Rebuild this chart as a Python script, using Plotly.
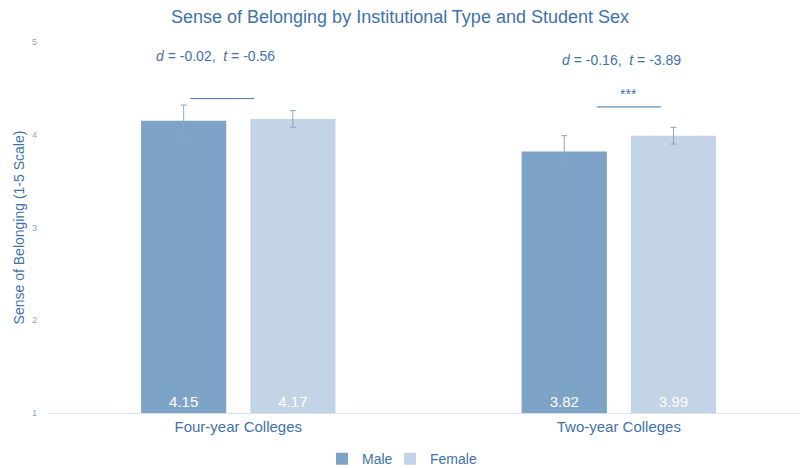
import plotly.graph_objects as go

# data
categories = ["Four-year Colleges", "Two-year Colleges"]
male_means = [4.15, 3.82]
female_means = [4.17, 3.99]
male_err = [0.17, 0.17]
female_err = [0.09, 0.09]
stat_labels = ["<i>d</i> = -0.02,  <i>t</i> = -0.56", "<i>d</i> = -0.16,  <i>t</i> = -3.89"]
sig_labels = ["", "***"]

AXIS_MIN = 1
MALE_COLOR = "#7DA3C7"
FEMALE_COLOR = "#C3D4E6"
TEXT_COLOR = "#3F72A8"
ERR_COLOR = "#87A6C6"


def add_group(name, means, errs, color, legend):
    # bars start at the axis floor so the value labels sit at the bar base
    fig.add_trace(go.Bar(
        name=name, x=categories, y=[v - AXIS_MIN for v in means], base=AXIS_MIN,
        marker=dict(color=color, line=dict(width=0)),
        error_y=dict(type="data", array=errs, color=ERR_COLOR, thickness=1, width=3),
        text=[f"{v:.2f}" for v in means], textposition="inside",
        insidetextanchor="start", textfont=dict(color="white", size=15),
        hovertemplate="%{x}: " + "%{text}<extra>" + name + "</extra>",
        legend=legend,
    ))


fig = go.Figure()
add_group("Male", male_means, male_err, MALE_COLOR, "legend")
add_group("Female", female_means, female_err, FEMALE_COLOR, "legend2")

# significance annotations
stat_pos = [(-0.061, 4.85), (1.008, 4.81)]
line_pos = [(-0.126, 0.042, 4.39), (0.942, 1.111, 4.3)]
for i in range(2):
    fig.add_annotation(x=stat_pos[i][0], y=stat_pos[i][1], xref="x", yref="y",
                       text=stat_labels[i], showarrow=False,
                       font=dict(size=14, color=TEXT_COLOR))
    x0, x1, yl = line_pos[i]
    fig.add_shape(type="line", x0=x0, x1=x1, y0=yl, y1=yl, xref="x", yref="y",
                  line=dict(color=TEXT_COLOR, width=1))
    if sig_labels[i]:
        fig.add_annotation(x=(x0 + x1) / 2, y=yl + 0.03, xref="x", yref="y",
                           text=sig_labels[i], showarrow=False, yanchor="bottom",
                           font=dict(size=14, color=TEXT_COLOR))

legend_style = dict(orientation="h", xanchor="left", xref="container",
                    y=0.019, yanchor="middle", yref="container",
                    font=dict(size=14, color=TEXT_COLOR), itemwidth=30,
                    bgcolor="rgba(0,0,0,0)")

fig.update_layout(
    width=800, height=468,
    plot_bgcolor="white", paper_bgcolor="white",
    font=dict(family="Liberation Sans, Arial, sans-serif", color=TEXT_COLOR),
    title=dict(text="Sense of Belonging by Institutional Type and Student Sex",
               x=0.5, xanchor="center", y=0.964, yanchor="middle",
               font=dict(size=18, color=TEXT_COLOR)),
    margin=dict(l=48, r=0, t=42, b=55),
    barmode="group", bargap=0.426, bargroupgap=0.22,
    showlegend=True,
    legend=dict(x=322 / 800, **legend_style),
    legend2=dict(x=390 / 800, **legend_style),
)
fig.update_xaxes(range=[-0.5, 1.476], showgrid=False, showline=True,
                 linecolor="#D9E2EE", linewidth=1, ticks="",
                 tickfont=dict(size=15, color=TEXT_COLOR))
fig.update_yaxes(range=[1, 5], tickvals=[1, 2, 3, 4, 5], showgrid=False,
                 zeroline=False, showline=False, ticks="",
                 ticklabelstandoff=10,
                 tickfont=dict(size=9, color="#8AA8CC"),
                 title=dict(text="Sense of Belonging (1-5 Scale)", standoff=4,
                            font=dict(size=14, color=TEXT_COLOR)))

fig.write_html("out.html", config={"displayModeBar": False},
               post_script="document.body.style.margin='0';")
